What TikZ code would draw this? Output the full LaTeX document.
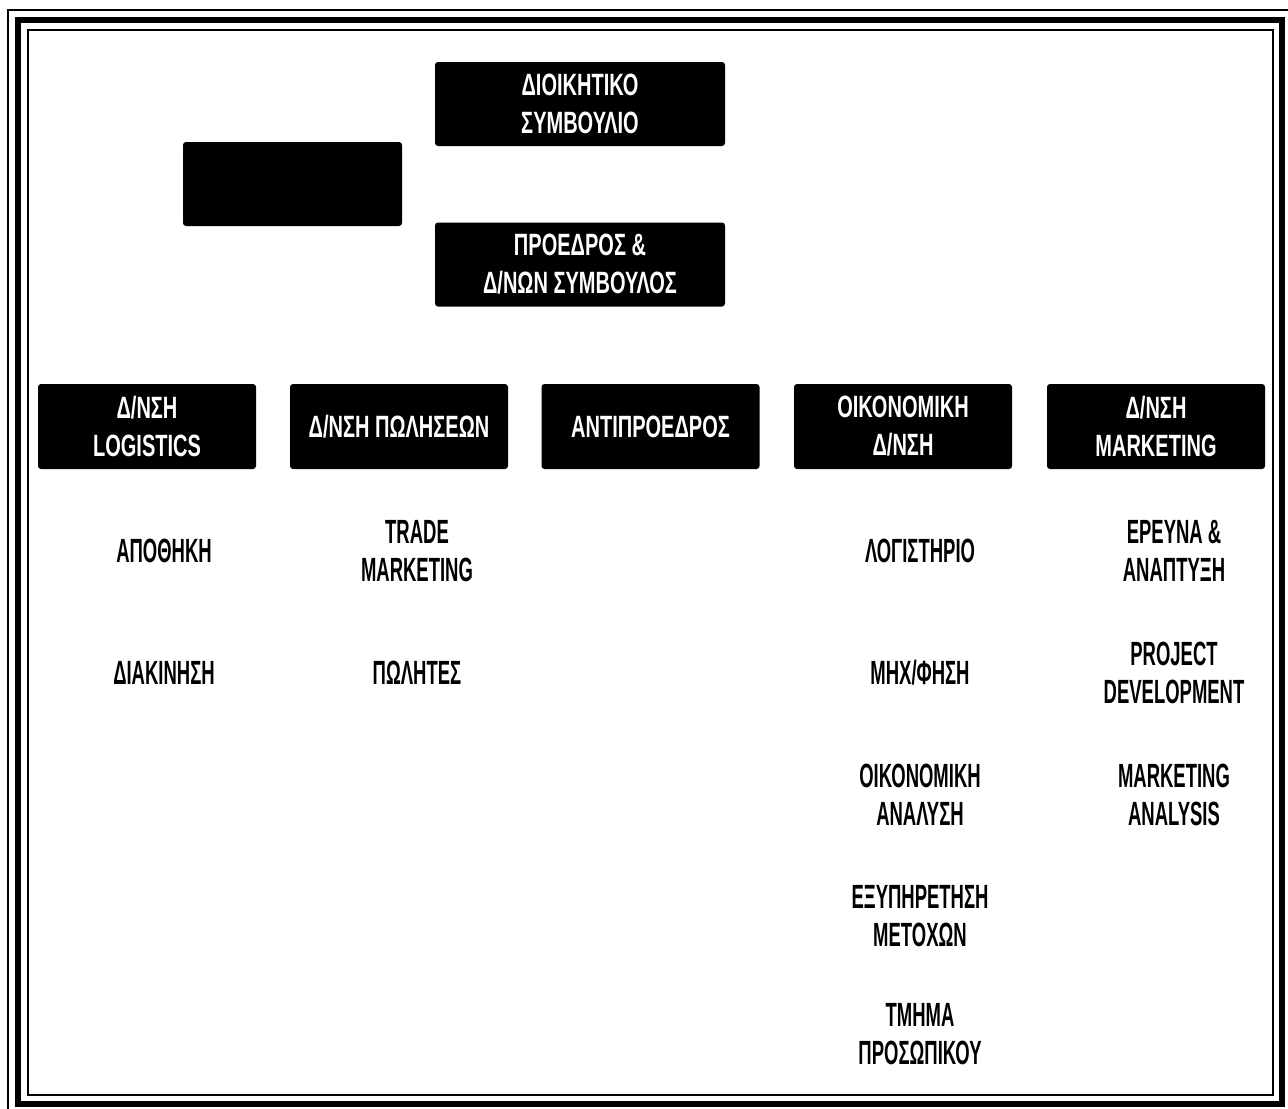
\documentclass[tikz,border=0pt]{standalone}
\usepackage{fontspec}
\newfontfamily\headfont[FakeStretch=0.65]{Liberation Sans Bold}
\newfontfamily\unitfont[FakeStretch=0.55]{Liberation Sans Bold}

\tikzset{
  head/.style={fill=black, text=white, rounded corners=1.5pt, inner sep=0pt,
    minimum width=109pt, minimum height=42.5pt, align=center,
    font=\headfont\fontsize{15.4}{19}\selectfont},
  top/.style={head, minimum width=145pt, minimum height=42pt},
  unit/.style={text=black, inner sep=0pt, align=center,
    font=\unitfont\fontsize{16.8}{19}\selectfont}
}

\begin{document}
\begin{tikzpicture}[x=0.5pt,y=-0.5pt]
    \useasboundingbox (0,0) rectangle (1288,1108);
    % frame
    \draw[line width=1pt] (8,10) rectangle (1296,1118);
    \draw[line width=3pt] (18,20) rectangle (1282,1104);
    \draw[line width=1pt] (28,30) rectangle (1273,1095);

    % top
    \node[top] (board) at (580,104) {ΔΙΟΙΚΗΤΙΚΟ\\ΣΥΜΒΟΥΛΙΟ};
    \node[top, minimum width=109.5pt] (blank) at (292.5,184) {};
    \node[top] (ceo) at (580,264.5) {ΠΡΟΕΔΡΟΣ \&\\Δ/ΝΩΝ ΣΥΜΒΟΥΛΟΣ};

    % directorates
    \node[head] (logist) at (147,426.5) {Δ/ΝΣΗ\\LOGISTICS};
    \node[head] (sales) at (399,426.5) {Δ/ΝΣΗ ΠΩΛΗΣΕΩΝ};
    \node[head] (vice) at (650.5,426.5) {ΑΝΤΙΠΡΟΕΔΡΟΣ};
    \node[head] (fin) at (903,426.5) {ΟΙΚΟΝΟΜΙΚΗ\\Δ/ΝΣΗ};
    \node[head] (mkt) at (1156,426.5) {Δ/ΝΣΗ\\MARKETING};

    % units
    \node[unit] (store) at (164,551) {ΑΠΟΘΗΚΗ};
    \node[unit] (handle) at (164,673) {ΔΙΑΚΙΝΗΣΗ};
    \node[unit] (trade) at (417,551) {TRADE\\MARKETING};
    \node[unit] (sellers) at (417,673) {ΠΩΛΗΤΕΣ};
    \node[unit] (acct) at (920,551) {ΛΟΓΙΣΤΗΡΙΟ};
    \node[unit] (mech) at (920,673) {ΜΗΧ/ΦΗΣΗ};
    \node[unit] (anal) at (920,795) {ΟΙΚΟΝΟΜΙΚΗ\\ΑΝΑΛΥΣΗ};
    \node[unit] (share) at (920,916) {ΕΞΥΠΗΡΕΤΗΣΗ\\ΜΕΤΟΧΩΝ};
    \node[unit] (staff) at (920,1034) {ΤΜΗΜΑ\\ΠΡΟΣΩΠΙΚΟΥ};
    \node[unit] (rnd) at (1174,551) {ΕΡΕΥΝΑ \&\\ΑΝΑΠΤΥΞΗ};
    \node[unit] (proj) at (1174,673) {PROJECT\\DEVELOPMENT};
    \node[unit] (mktan) at (1174,795) {MARKETING\\ANALYSIS};
\end{tikzpicture}
\end{document}
